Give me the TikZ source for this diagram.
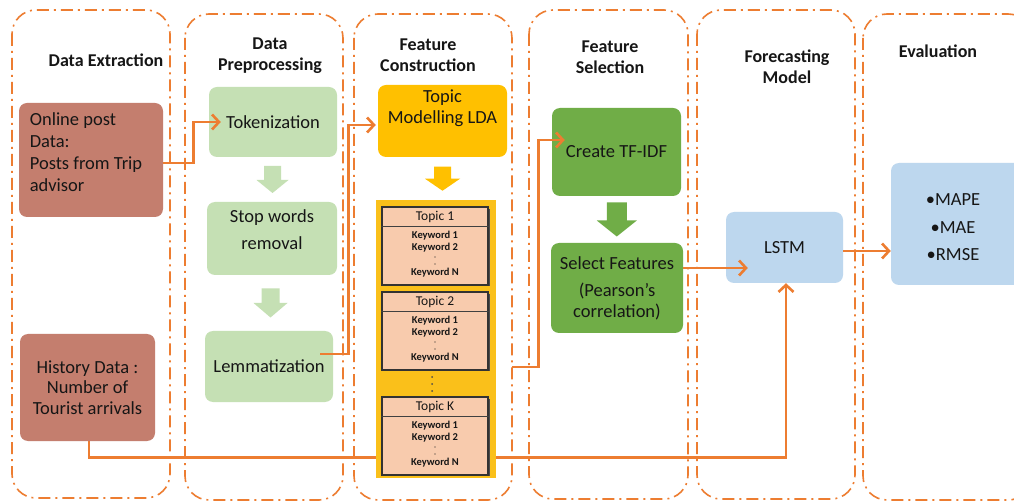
\documentclass[tikz,border=0pt]{standalone}
\usepackage{fontspec}
\setmainfont{Carlito}
\usetikzlibrary{arrows.meta,calc}
\pgfdeclarelayer{bg}
\pgfsetlayers{bg,main}
\definecolor{orng}{HTML}{ED7D31}
\definecolor{brownbox}{RGB}{196,126,110}
\definecolor{lgreen}{HTML}{C5E0B4}
\definecolor{dgreen}{HTML}{70AD47}
\definecolor{gold}{HTML}{FFC000}
\definecolor{goldc}{RGB}{250,192,26}
\definecolor{peach}{HTML}{F8CBAD}
\definecolor{lblue}{HTML}{BDD7EE}
\definecolor{txt}{RGB}{22,22,22}
\newcommand\blkarrow[6]{%
  \fill[#6] ($(#1)+(-#2,-#4)$) -- ($(#1)+(#2,-#4)$) -- ($(#1)+(#2,#5)$) -- ($(#1)+(#3,#5)$)
    -- ($(#1)+(0,#4)$) -- ($(#1)+(-#3,#5)$) -- ($(#1)+(-#2,#5)$) -- cycle;}
\begin{document}
\begin{tikzpicture}[x=1pt,y=-1pt,
  panel/.style={draw=orng, line width=1.6pt, rounded corners=24pt,
    dash pattern=on 12pt off 5pt on 2pt off 5pt},
  title/.style={font=\fontsize{18}{21}\selectfont\bfseries, align=center, text=txt},
  box/.style={rounded corners=8pt, inner sep=0pt, align=center, text=txt,
    font=\fontsize{18.5}{20.5}\selectfont},
  boxtext/.style={align=center, text=txt, inner sep=0pt, font=\fontsize{18.5}{20.5}\selectfont},
  conn/.style={draw=orng, line width=2.6pt, -{Straight Barb[length=7pt,width=15pt]}},
  topicbox/.style={draw=black!80, fill=peach, line width=1.1pt, minimum width=106,
    minimum height=78, inner sep=0pt},
  kw/.style={font=\fontsize{10.5}{11}\selectfont\bfseries, text=txt, inner sep=0pt},
]
\useasboundingbox (0,0) rectangle (1014,502);
\clip (0,0) rectangle (1014,502);

% panels
\begin{pgfonlayer}{bg}
\fill[white] (0,0) rectangle (1014,502);
\draw[panel] (12,10) rectangle (170,498);
\draw[panel] (185,14) rectangle (343,500);
\draw[panel] (354,14) rectangle (512,500);
\draw[panel] (529,10) rectangle (688,499);
\draw[panel] (697,10) rectangle (855,499);
\draw[panel] (863,14) rectangle (1032,500);
\end{pgfonlayer}

% titles
\node[title] (ti1) at (106,60) {Data Extraction};
\node[title] (ti2) at (270,55.5) {Data\\Preprocessing};
\node[title] (ti3) at (428,55) {Feature\\Construction};
\node[title] (ti4) at (610,57) {Feature\\Selection};
\node[title] (ti5) at (787,66.5) {Forecasting\\Model};
\node[title] (ti6) at (938,51) {Evaluation};

% data extraction
\node[box, fill=brownbox, minimum width=144, minimum height=114,
  label={[boxtext, align=left, font=\fontsize{18.5}{22}\selectfont, xshift=-5pt, yshift=8pt]center:Online post\\Data:\\Posts from Trip\\advisor}] (online) at (91,160) {};
\node[box, fill=brownbox, minimum width=135, minimum height=107] (hist) at (87.5,387.5) {History Data :\\Number of\\Tourist arrivals};

% preprocessing
\node[box, fill=lgreen, minimum width=128, minimum height=70] (token) at (273,122) {Tokenization};
\node[box, fill=lgreen, minimum width=130, minimum height=73,
  label={[boxtext, font=\fontsize{18.5}{27}\selectfont, yshift=9pt]center:Stop words\\removal}] (stop) at (272,238.5) {};
\node[box, fill=lgreen, minimum width=128, minimum height=71] (lemma) at (269,366.5) {Lemmatization};
\coordinate (m1) at ($(token.south)!0.5!(stop.north)$);
\coordinate (m2) at ($(stop.south)!0.5!(lemma.north)$);
\blkarrow{m1}{8.5}{16}{13.5}{0.5}{lgreen}
\blkarrow{m2}{9}{17}{14.5}{0}{lgreen}

% feature construction
\node[box, fill=gold, minimum width=129, minimum height=72,
  label={[boxtext, yshift=13pt]center:Topic\\Modelling LDA}] (lda) at (442.5,121) {};
\node[fill=goldc, minimum width=120, minimum height=277, inner sep=0pt] (cont) at (436,339) {};
\coordinate (m3) at ($(lda.south)!0.5!(lda.south |- cont.north)$);
\blkarrow{m3}{8.5}{17.5}{12}{0}{gold}
\foreach \T/\lab [count=\i] in {207/Topic 1, 292/Topic 2, 397/Topic K} {
  \fill[black!70] (385,\T+2) rectangle (490,\T+79);
  \node[topicbox] (topic\i) at (435,\T+39) {};
  \draw[black!75, line width=0.9pt] ($(topic\i.north west)+(0,20)$) -- ($(topic\i.north east)+(0,20)$);
  \node[font=\fontsize{13.5}{14}\selectfont, text=txt, inner sep=0pt] (th\i) at (435,\T+10) {\lab};
  \node[kw] (ka\i) at (435,\T+29) {Keyword 1};
  \node[kw] (kb\i) at (435,\T+41) {Keyword 2};
  \fill[txt] (435,\T+50) circle (0.7) (435,\T+57) circle (0.7);
  \node[kw] (ke\i) at (435,\T+66) {Keyword N};
}
\fill[black!70] (432,377) circle (1) (432,384) circle (1) (432,391) circle (1);

% feature selection
\node[box, fill=dgreen, minimum width=129, minimum height=88] (tfidf) at (616.5,152) {Create TF-IDF};
\node[box, fill=dgreen, minimum width=132, minimum height=90] (sel) at (617,288) {Select Features\\[7pt](Pearson’s\\correlation)};
\coordinate (m4) at ($(tfidf.south)!0.5!(sel.north)$);
\blkarrow{m4}{10}{20}{17}{1}{dgreen}

% forecasting + evaluation
\node[box, fill=lblue, minimum width=117, minimum height=71] (lstm) at (784.5,247.5) {LSTM};
\node[box, fill=lblue, minimum width=140, minimum height=122,
  label={[boxtext, font=\fontsize{18.5}{27.5}\selectfont, xshift=-8pt, yshift=-3.5pt]center:•MAPE\\•MAE\\•RMSE}] (eval) at (961,224) {};

% connectors
\begin{pgfonlayer}{bg}
\draw[conn] ([xshift=1.5pt]hist.south) -- ++(0,16) -| ([xshift=1.5pt]lstm.south);
\end{pgfonlayer}
\draw[conn] ([yshift=-3pt]online.east) -- ++(30,0) |- ([xshift=12pt]token.west);
\draw[conn] ([xshift=-13pt,yshift=12.5pt]lemma.east) -- ++(28,0) |- ([shift={(-2pt,-4pt)}]lda.west);
\draw[conn] ($(cont.east)+(16,28)$) -- ++(26,0) |- ([xshift=13pt,yshift=12pt]tfidf.west);
\draw[conn] ([yshift=20pt]sel.east) -- ([xshift=22pt,yshift=-20.5pt]lstm.west);
\draw[conn] ([yshift=-3.5pt]lstm.east) -- ([yshift=-27pt]eval.west);
\end{tikzpicture}
\end{document}
